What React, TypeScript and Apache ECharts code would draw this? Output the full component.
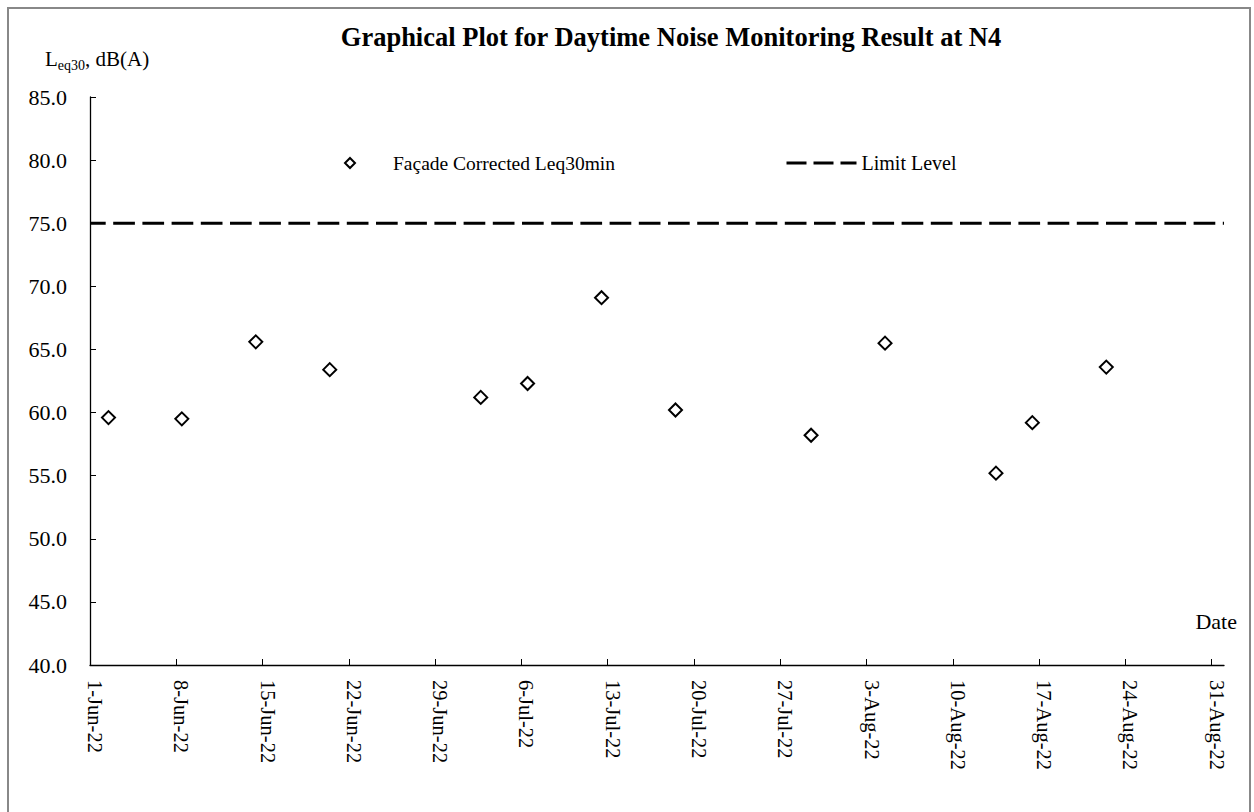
import React, { useEffect, useRef } from 'react';
import * as echarts from 'echarts';

// Days counted from 1-Jun-22 (day 0)
const tickDays = [0, 7, 14, 21, 28, 35, 42, 49, 56, 63, 70, 77, 84, 91];
const yTicks = [40, 45, 50, 55, 60, 65, 70, 75, 80, 85];
const measurementDays = [1.5, 7.45, 13.45, 19.45, 31.7, 35.5, 41.5, 47.5, 58.5, 64.5, 73.5, 76.45, 82.45];
const leqValues = [59.6, 59.5, 65.6, 63.4, 61.2, 62.3, 69.1, 60.2, 58.2, 65.5, 55.2, 59.2, 63.6];
const limitDays = [0, 92];
const limitValues = [75, 75];
const monthNames = ['Jan', 'Feb', 'Mar', 'Apr', 'May', 'Jun', 'Jul', 'Aug', 'Sep', 'Oct', 'Nov', 'Dec'];
const baseDate = Date.UTC(2022, 5, 1);

const SERIF = '"Liberation Serif", "Times New Roman", serif';

function dayLabel(v: number): string {
  const d = new Date(baseDate + Math.round(v) * 86400000);
  return `${d.getUTCDate()}-${monthNames[d.getUTCMonth()]}-22`;
}

export default function App() {
  const ref = useRef<HTMLDivElement>(null);
  useEffect(() => {
    if (!ref.current) return;
    const chart = echarts.init(ref.current, undefined, { renderer: 'svg' });
    const scatterName = 'Façade Corrected Leq30min';
    const lineName = 'Limit Level';
    chart.setOption({
      animation: false,
      backgroundColor: '#fff',
      title: {
        text: 'Graphical Plot for Daytime Noise Monitoring Result at N4',
        left: 666,
        textAlign: 'center',
        top: 18,
        textStyle: { fontFamily: SERIF, fontWeight: 'bold', fontSize: 26.5, color: '#000' },
      },
      legend: [
        {
          data: [{ name: scatterName, icon: 'diamond' }],
          left: 339,
          top: 148,
          itemWidth: 10,
          itemHeight: 10,
          selectedMode: false,
          textStyle: { fontFamily: SERIF, fontSize: 19.5, color: '#000', padding: [0, 0, 0, 33] },
          itemStyle: { color: '#fff', borderColor: '#000', borderWidth: 2 },
        },
        {
          data: [{ name: lineName }],
          left: 780,
          top: 148,
          itemWidth: 70,
          itemHeight: 14,
          selectedMode: false,
          textStyle: { fontFamily: SERIF, fontSize: 20, color: '#000' },
          itemStyle: { opacity: 0 },
          lineStyle: { color: '#000', width: 3, type: [20, 7], dashOffset: 0 },
        },
      ],
      grid: { left: 90, right: 30, top: 97, bottom: 147, containLabel: false, outerBoundsMode: 'none' },
      xAxis: {
        type: 'value',
        min: 0,
        max: 92,
        interval: 7,
        splitLine: { show: false },
        axisLine: { lineStyle: { color: '#000', width: 1.3 } },
        axisTick: { inside: true, length: 6, customValues: tickDays, lineStyle: { color: '#000', width: 1 } },
        axisLabel: {
          customValues: tickDays,
          rotate: -90,
          margin: 15,
          fontFamily: SERIF,
          fontSize: 20.5,
          color: '#000',
          verticalAlign: 'bottom',
          lineHeight: 10,
          formatter: (v: number) => dayLabel(v),
        },
      },
      yAxis: {
        type: 'value',
        min: 40,
        max: 85,
        interval: 5,
        splitLine: { show: false },
        axisLine: { show: true, lineStyle: { color: '#000', width: 1.3 } },
        axisTick: { show: true, inside: true, length: 6, customValues: yTicks, lineStyle: { color: '#000', width: 1 } },
        axisLabel: {
          customValues: yTicks,
          margin: 23,
          fontFamily: SERIF,
          fontSize: 22,
          color: '#000',
          formatter: (v: number) => v.toFixed(1),
        },
      },
      graphic: [
        {
          type: 'rect',
          shape: { x: 8, y: 8, width: 1242, height: 820 },
          style: { fill: 'none', stroke: '#888', lineWidth: 2 },
          silent: true,
        },
        {
          type: 'text',
          left: 45,
          top: 48,
          style: {
            text: '{l|L}{s|eq30}{l|, dB(A)}',
            rich: {
              l: { fontFamily: SERIF, fontSize: 21, fill: '#000', verticalAlign: 'bottom', lineHeight: 24 },
              s: { fontFamily: SERIF, fontSize: 14, fill: '#000', verticalAlign: 'bottom', lineHeight: 18, padding: [0, 0, -3, 0] },
            },
          },
        },
        {
          type: 'text',
          right: 17,
          top: 610,
          style: { text: 'Date', fontFamily: SERIF, fontSize: 22, fill: '#000' },
        },
      ],
      series: [
        {
          name: lineName,
          type: 'line',
          data: limitDays.map((d, i) => [d, limitValues[i]]),
          symbol: 'none',
          showSymbol: false,
          lineStyle: { color: '#000', width: 3, type: [21.7, 7.5], dashOffset: 6 },
          z: 2,
        },
        {
          name: scatterName,
          type: 'scatter',
          data: measurementDays.map((d, i) => [d, leqValues[i]]),
          symbol: 'diamond',
          symbolSize: 13,
          itemStyle: { color: '#fff', borderColor: '#000', borderWidth: 2, opacity: 1 },
          z: 3,
        },
      ],
    });
    return () => chart.dispose();
  }, []);
  return <div ref={ref} style={{ position: 'absolute', left: 0, top: 0, width: 1254, height: 812 }} />;
}
